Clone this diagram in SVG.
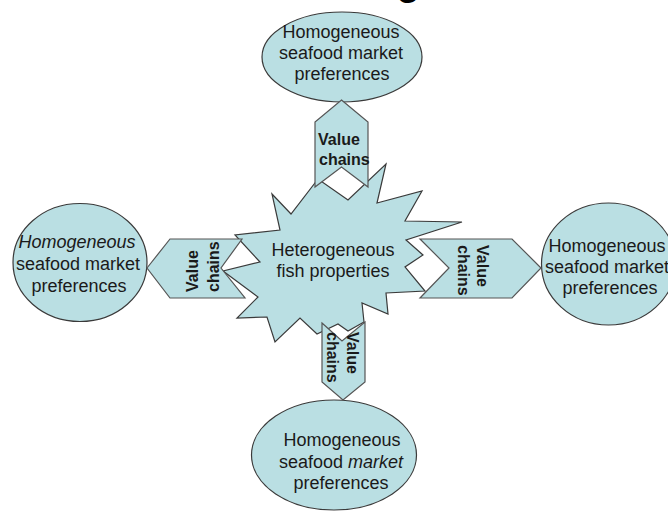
<svg xmlns="http://www.w3.org/2000/svg" width="668" height="517" viewBox="0 0 668 517">
  <style>
    .shape { fill: #BADFE3; stroke: #3a3a3a; stroke-width: 1.2; stroke-linejoin: miter; }
    .arrow { fill: #BADFE3; stroke: #555; stroke-width: 1.2; }
    .lbl { font-family: "Liberation Sans", Arial, sans-serif; font-size: 18px; fill: #1a1a1a; text-anchor: middle; }
    .vc { font-family: "Liberation Sans", Arial, sans-serif; font-size: 16px; font-weight: bold; fill: #1a1a1a; }
    .it { font-style: italic; }
  </style>
  <rect width="668" height="517" fill="#ffffff"/>

  <!-- title glyph running off the top edge -->
  <text x="396" y="-6" font-family="Liberation Sans, Arial, sans-serif" font-size="44" fill="#000">g</text>

  <!-- outer market nodes -->
  <g id="market-top">
    <ellipse class="shape" cx="342" cy="57" rx="80" ry="45"/>
    <text class="lbl" x="341" y="38">Homogeneous</text>
    <text class="lbl" x="341" y="59">seafood market</text>
    <text class="lbl" x="342" y="80">preferences</text>
  </g>
  <g id="market-left">
    <ellipse class="shape" cx="80" cy="262.5" rx="67" ry="59"/>
    <text class="lbl it" x="77" y="248">Homogeneous</text>
    <text class="lbl" x="78" y="270">seafood market</text>
    <text class="lbl" x="79" y="292">preferences</text>
  </g>
  <g id="market-right">
    <ellipse class="shape" cx="608.5" cy="264" rx="67" ry="61"/>
    <text class="lbl" x="607" y="252">Homogeneous</text>
    <text class="lbl" x="607" y="273">seafood market</text>
    <text class="lbl" x="610" y="294">preferences</text>
  </g>
  <g id="market-bottom">
    <ellipse class="shape" cx="334" cy="455" rx="82.5" ry="55"/>
    <text class="lbl" x="342" y="446">Homogeneous</text>
    <text class="lbl" x="341" y="468">seafood <tspan class="it">market</tspan></text>
    <text class="lbl" x="341" y="489">preferences</text>
  </g>

  <!-- central explosion -->
  <g id="fish-properties">
    <polygon class="shape" points="272,194 291,214 318,179 348,200 386,164 377,203 422,191 405,221 462,222 406,240 423,255 405,267 425,291 386,293 388,314 362,303 364,322 348,331 338,324 317,334 300,318 275,342 267,317 237,318 258,297 223,271 260,262 235,235 280,230"/>
    <text class="lbl" x="333" y="256">Heterogeneous</text>
    <text class="lbl" x="333" y="277">fish properties</text>
  </g>

  <!-- value chain connectors -->
  <g id="connectors">
    <g id="chain-top">
      <polygon class="arrow" points="341.5,100 368,122 368,187 341.5,167 315,187 315,122"/>
      <text class="vc" x="318" y="145">Value</text>
      <text class="vc" x="319" y="165">chains</text>
    </g>
    <g id="chain-left">
      <polygon class="arrow" points="147,268 170,239 242,239 221,268 245,298 170,298"/>
      <text class="vc" transform="translate(198,292) rotate(-90)">Value</text>
      <text class="vc" transform="translate(219,292) rotate(-90)">chains</text>
    </g>
    <g id="chain-right">
      <polygon class="arrow" points="541,268 512,239 420,239 449,268 420,298 512,298"/>
      <text class="vc" transform="translate(477,245) rotate(90)">Value</text>
      <text class="vc" transform="translate(458,245) rotate(90)">chains</text>
    </g>
    <g id="chain-bottom">
      <polygon class="arrow" points="322,323 342,341 365,322 365,382 343,400 322,382"/>
      <text class="vc" transform="translate(347,332) rotate(90)">Value</text>
      <text class="vc" transform="translate(327,332) rotate(90)">chains</text>
    </g>
  </g>
</svg>
